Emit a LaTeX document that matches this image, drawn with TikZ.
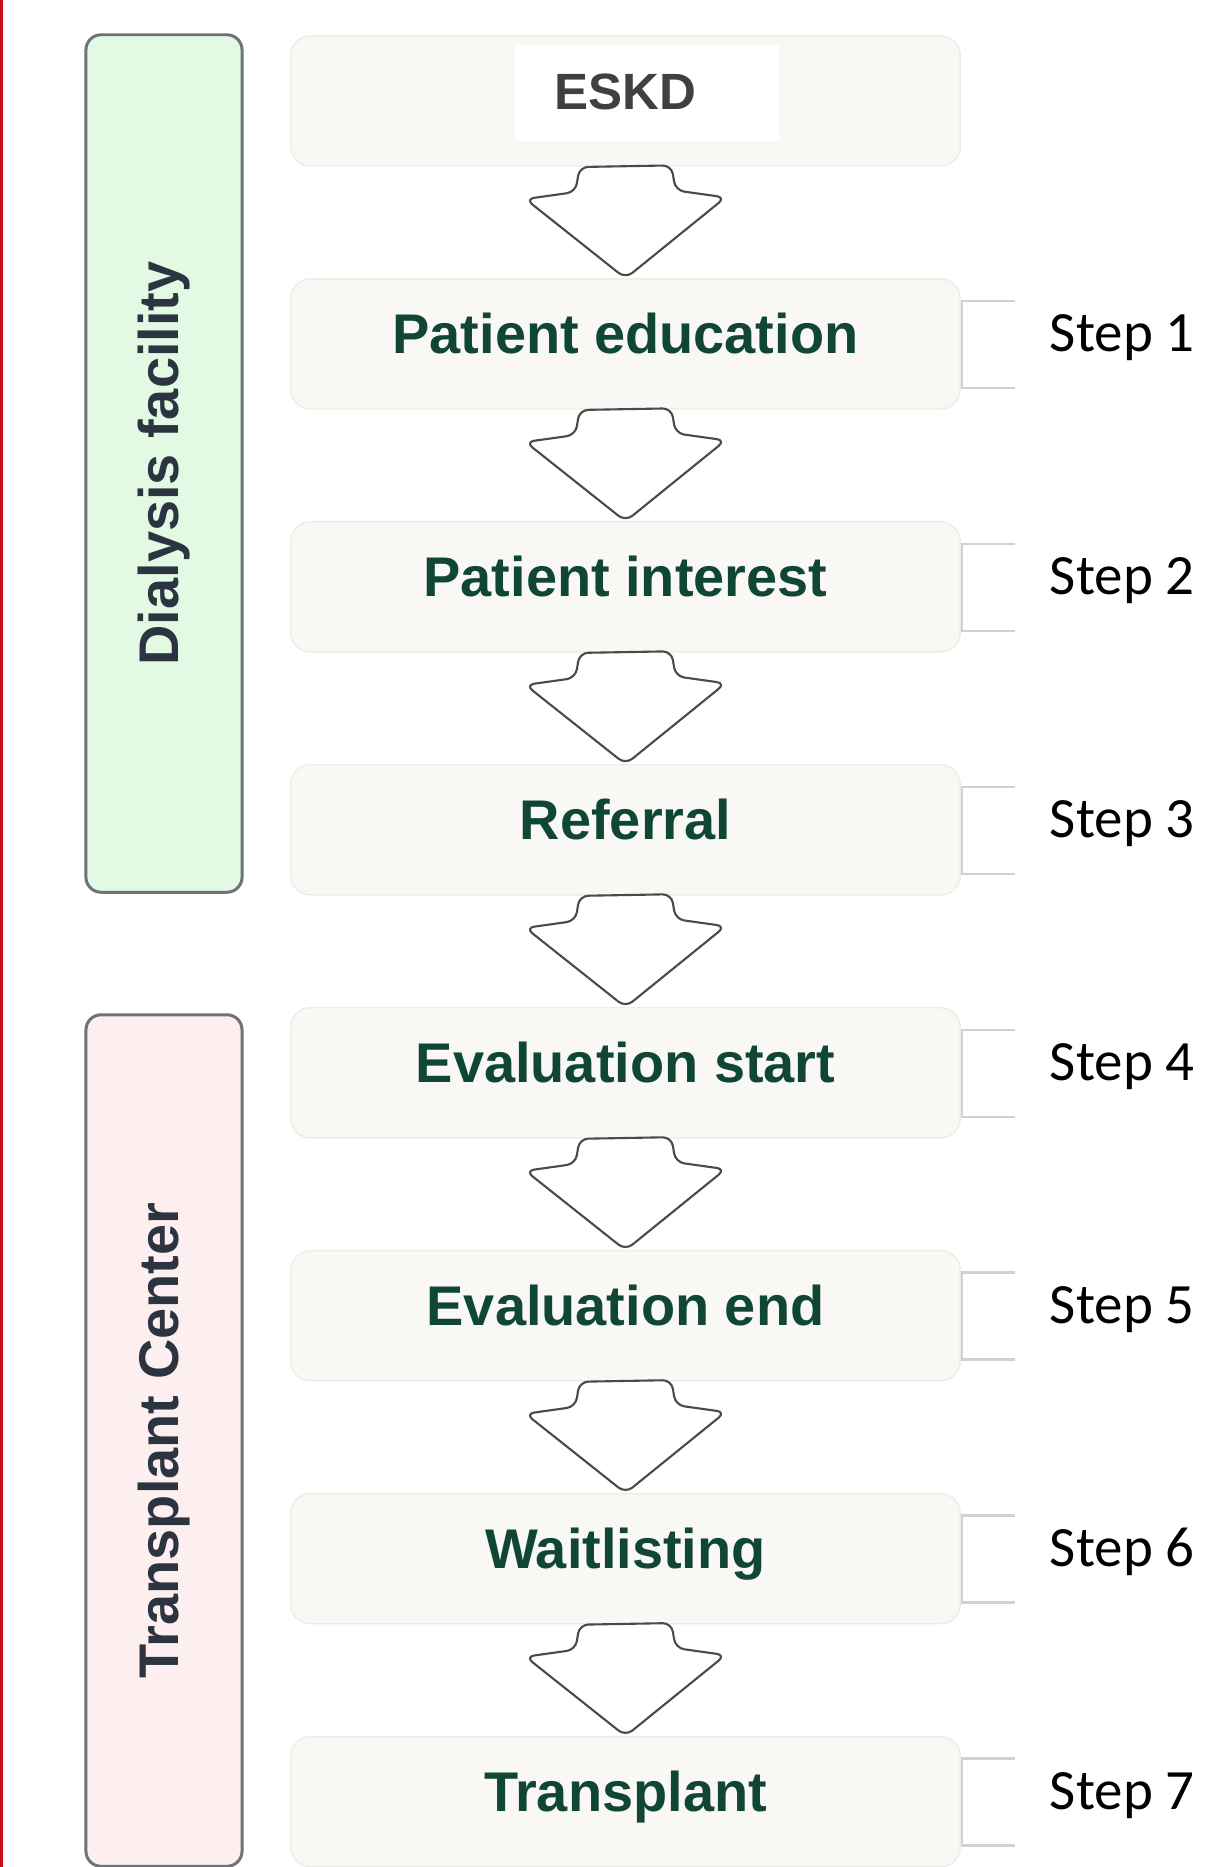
\documentclass[tikz,border=0pt]{standalone}
\usepackage{fontspec}
\setmainfont{Liberation Sans}
\newfontfamily\stepfont{Carlito}
\usetikzlibrary{positioning}

\definecolor{boxfill}{HTML}{FAF8F4}
\definecolor{boxedge}{HTML}{EEECE7}
\definecolor{labelgreen}{HTML}{0F4636}
\definecolor{eskdgray}{HTML}{404040}
\definecolor{dialysisfill}{HTML}{E2F9E3}
\definecolor{centerfill}{HTML}{FDEFEF}
\definecolor{sideedge}{HTML}{6D7279}
\definecolor{sidetext}{HTML}{2B3440}
\definecolor{arrowedge}{HTML}{4A4A4A}
\definecolor{marginred}{HTML}{C8101A}

\tikzset{
  stepbox/.style={draw=boxedge, line width=0.4pt, fill=boxfill, rounded corners=5.5pt,
    minimum width=6.69cm, minimum height=1.30cm, inner sep=0pt, outer sep=0pt,
    font=\fontsize{15.9}{18}\selectfont\bfseries, text=labelgreen,
    text height=0.72em, text depth=0.15em},
  eskdlabel/.style={inner sep=0pt, font=\fontsize{14.5}{17}\selectfont\bfseries,
    text=eskdgray, text height=0.72em, text depth=0.25em},
  sidebox/.style={draw=sideedge, line width=0.85pt, rounded corners=4.3pt, rotate=90,
    minimum height=1.56cm, inner sep=0pt, outer sep=0pt,
    font=\fontsize{15.9}{18}\selectfont\bfseries, text=sidetext},
  flowarrow/.style={draw=arrowedge, fill=white, line width=0.6pt, rounded corners=2.5pt,
    line join=round},
  bracketline/.style={draw=black!18, line width=0.7pt},
  steplabel/.style={anchor=base west, inner sep=0pt, font=\stepfont\fontsize{16.2}{19}\selectfont}
}

\begin{document}
\begin{tikzpicture}[x=0.01cm, y=-0.01cm]

\useasboundingbox (0,0) rectangle (1209,1867);

% ======================================
% MARGIN RULE
% ======================================
\draw[draw=marginred, line width=0.85pt] (1.5,0) -- (1.5,1867);

% ======================================
% SIDE BANDS: WHERE EACH STEP HAPPENS
% ======================================
\node[sidebox, fill=dialysisfill, minimum width=8.57cm] (dialysis) at (164,463.5) {Dialysis facility};
\node[sidebox, fill=centerfill, minimum width=8.51cm] (center) at (164,1440.5) {Transplant Center};

% ======================================
% THE STARTING POINT
% ======================================
\node[stepbox] (eskd) at (625.5,101) {};
\node[fill=white, minimum width=2.64cm, minimum height=0.96cm, inner sep=0pt]
  (eskdpatch) at ([xshift=0.215cm, yshift=0.08cm]eskd.center) {};
\node[eskdlabel] (eskdtext) at (eskd.center) {ESKD};

% ======================================
% THE SEVEN STEPS
% ======================================
\node[stepbox, below=1.128cm of eskd] (edu) {Patient education};
\node[stepbox, below=1.128cm of edu] (interest) {Patient interest};
\node[stepbox, below=1.128cm of interest] (referral) {Referral};
\node[stepbox, below=1.128cm of referral] (evalstart) {Evaluation start};
\node[stepbox, below=1.128cm of evalstart] (evalend) {Evaluation end};
\node[stepbox, below=1.128cm of evalend] (waitlist) {Waitlisting};
\node[stepbox, below=1.128cm of waitlist] (transplant) {Transplant};

% block arrows from one box down to the next
\foreach \a/\b in {eskd/edu, edu/interest, interest/referral, referral/evalstart,
                   evalstart/evalend, evalend/waitlist, waitlist/transplant}
  \draw[flowarrow] (\a.south) ++(-46,1) -- ++(-4,25) -- ++(-50,7)
    -- ([yshift=0.005cm]\b.north) -- ++(100,-81) -- ++(-50,-7) -- ++(-4,-25) -- cycle;

% ======================================
% STEP NUMBERS ON THE RIGHT
% ======================================
\foreach \b/\n in {edu/1, interest/2, referral/3, evalstart/4, evalend/5, waitlist/6, transplant/7} {
  \draw[bracketline] (\b.north east) ++(55,22) -- ++(-53,0) -- ++(0,87) -- ++(53,0);
  \node[steplabel] (step\n) at ([xshift=0.89cm, yshift=-0.08cm]\b.east) {Step \n};
}

\end{tikzpicture}
\end{document}
